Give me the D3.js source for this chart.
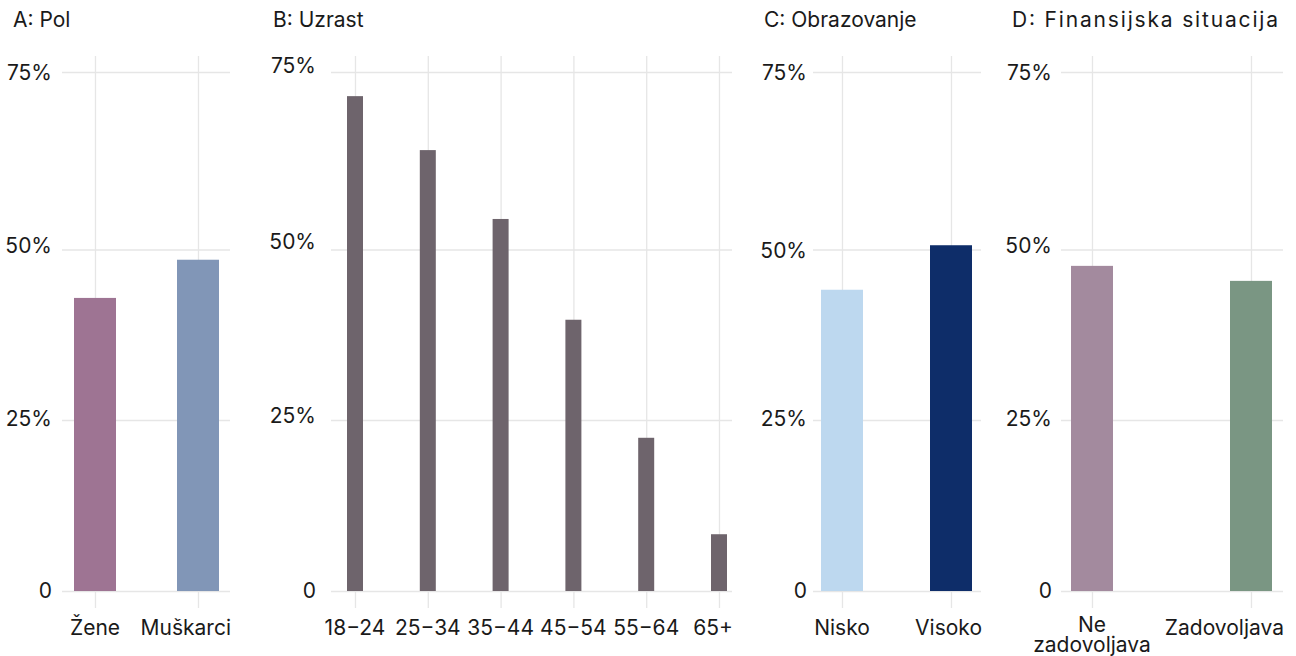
<!DOCTYPE html>
<html><head><meta charset="utf-8">
<script src="https://cdn.jsdelivr.net/npm/d3@7"></script>
<style>
body{margin:0;background:#fff}
svg text{font-family:Inter,"Noto Sans",sans-serif;fill:#1a1a1a}
</style></head>
<body><svg id="c" width="1296" height="656"></svg>
<script>
// ---- data ----
const titles = ["A: Pol", "B: Uzrast", "C: Obrazovanje", "D: Finansijska situacija"];
const polCategories = ["Žene", "Muškarci"];
const polValues = [0.429, 0.485];
const uzrastCategories = ["18−24", "25−34", "35−44", "45−54", "55−64", "65+"];
const uzrastValues = [0.716, 0.640, 0.543, 0.397, 0.224, 0.083];
const obrazovanjeCategories = ["Nisko", "Visoko"];
const obrazovanjeValues = [0.441, 0.506];
const finCategories = ["Ne zadovoljava", "Zadovoljava"];
const finValues = [0.476, 0.454];
const yTicks = [0, 0.25, 0.5, 0.75];
const yTickLabels = ["0", "25%", "50%", "75%"];

// ---- styles / layout ----
const polColors = ["#9e7493", "#8196b7"];
const uzrastColors = ["#6e646c"];
const obrazovanjeColors = ["#bdd8ef", "#0e2d69"];
const finColors = ["#a38a9e", "#7a9683"];

const panels = [
  {title: titles[0], cats: polCategories, vals: polValues, colors: polColors,
   grid: [62, 230], centers: [95, 198], labelRight: 52, titleX: 13, titleW: null, barW: 42, labelDy: [-1, -2, -4.5, 0]},
  {title: titles[1], cats: uzrastCategories, vals: uzrastValues, colors: uzrastColors,
   grid: [331, 732], centers: [355, 719], labelRight: 316, titleX: 273, titleW: null, barW: 16, labelDy: [-1, -5, -8.5, -7]},
  {title: titles[2], cats: obrazovanjeCategories, vals: obrazovanjeValues, colors: obrazovanjeColors,
   grid: [813, 981], centers: [842, 951], labelRight: 807, titleX: 764, titleW: null, barW: 42, labelDy: [-1, -2, 0, 0]},
  {title: titles[3], cats: finCategories, vals: finValues, colors: finColors,
   grid: [1061, 1283], centers: [1092, 1251], labelRight: 1052, titleX: 1012, titleW: 266, barW: 42, labelDy: [-1, -2, -4.5, 0]}
];

const y = d3.scaleLinear().domain(yTicks).range([591, 420, 249.5, 72]);
const gridTop = 56, gridBottom = 608;
const gridColor = "#e6e6e6";
const fs = 21;

const svg = d3.select("#c");

panels.forEach(p => {
  const g = svg.append("g");
  const x = d3.scalePoint().domain(p.cats).range(p.centers).padding(0);

  // title
  const tt = g.append("text").attr("x", p.titleX).attr("y", 27).attr("font-size", fs).text(p.title);
  if (p.titleW) tt.attr("textLength", p.titleW).attr("lengthAdjust", "spacing");

  // horizontal gridlines via axis
  const ya = d3.axisLeft(y).tickValues(yTicks)
    .tickFormat((d, i) => yTickLabels[i])
    .tickSize(-(p.grid[1] - p.grid[0])).tickPadding(0);
  const yg = g.append("g").attr("transform", `translate(${p.grid[0]},0)`).call(ya);
  yg.select(".domain").remove();
  yg.selectAll(".tick line").attr("stroke", gridColor).attr("stroke-width", 1.3);
  yg.selectAll(".tick text")
    .attr("x", p.labelRight - p.grid[0])
    .attr("dy", (d, i) => p.labelDy[i])
    .attr("dominant-baseline", "central")
    .attr("font-size", fs).attr("font-family", "Inter").attr("fill", "#1a1a1a")
    .attr("text-anchor", "end");

  // vertical gridlines via axis
  const xa = d3.axisBottom(x).tickSize(-(gridBottom - gridTop)).tickFormat("");
  const xg = g.append("g").attr("transform", `translate(0,${gridBottom})`).call(xa);
  xg.select(".domain").remove();
  xg.selectAll(".tick line").attr("stroke", gridColor).attr("stroke-width", 1.3);

  // bars
  g.selectAll("rect.bar").data(p.cats).join("rect")
    .attr("class", "bar")
    .attr("x", d => x(d) - p.barW / 2)
    .attr("width", p.barW)
    .attr("y", (d, i) => y(p.vals[i]))
    .attr("height", (d, i) => y(0) - y(p.vals[i]))
    .attr("fill", (d, i) => p.colors[i % p.colors.length]);

  // x labels
  p.cats.forEach(c => {
    const t = g.append("text").attr("text-anchor", "middle").attr("font-size", fs)
      .attr("x", x(c)).attr("y", 635).text(c);
    const w = t.node().getComputedTextLength();
    if (w > 125 && c.includes(" ")) {
      t.text(null).attr("y", 632);
      c.split(" ").forEach((word, k) => {
        t.append("tspan").attr("x", x(c)).attr("y", 632 + k * 19.5).text(word);
      });
    } else if (x(c) + w / 2 > p.grid[1] + 1) {
      t.attr("text-anchor", "end").attr("x", p.grid[1] + 1);
    }
  });
});
</script>
</body></html>
